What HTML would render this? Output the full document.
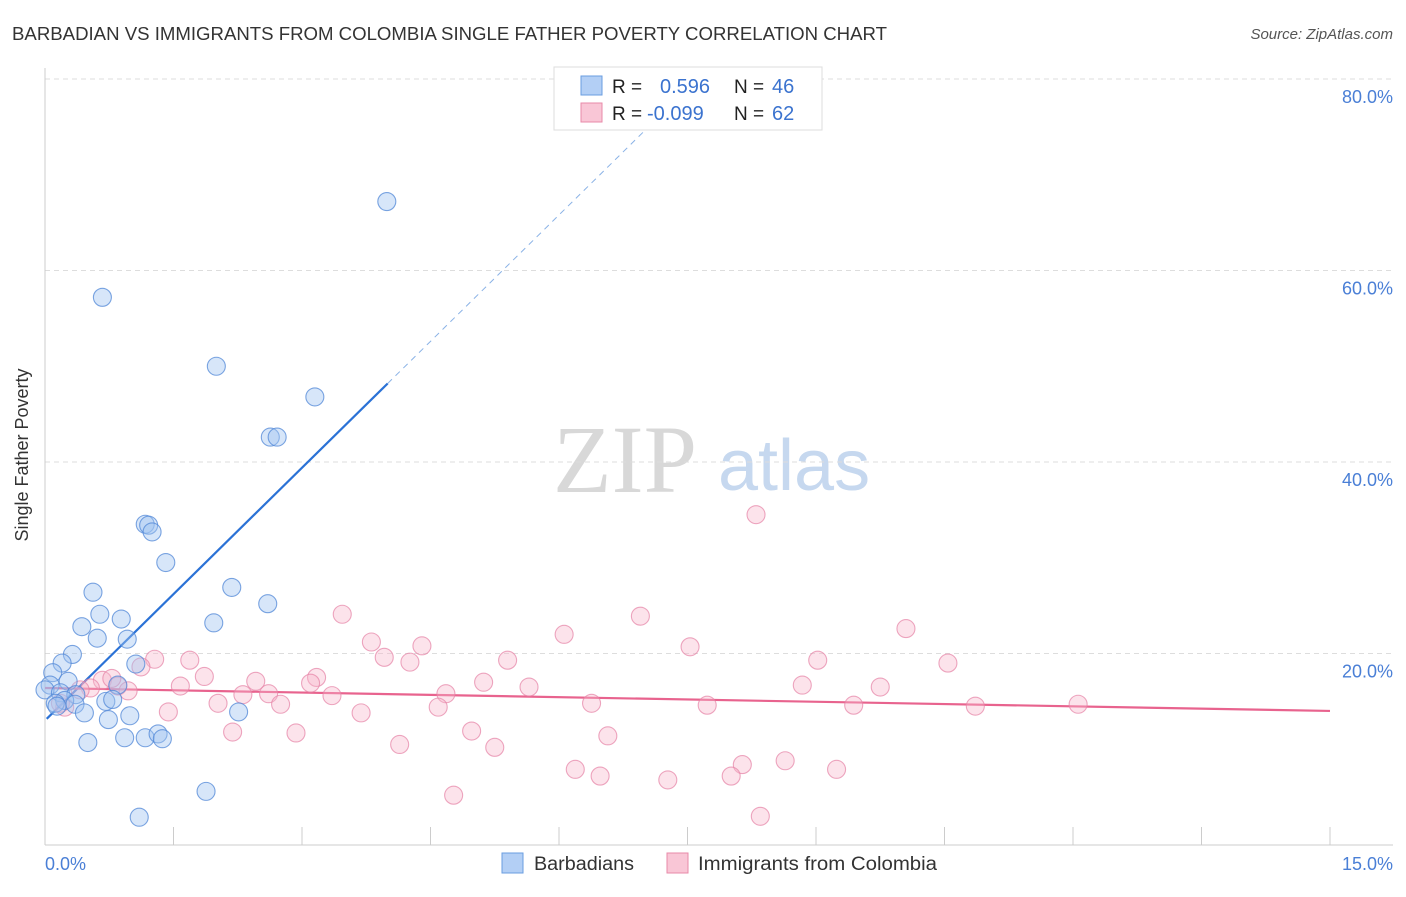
<!DOCTYPE html>
<html><head><meta charset="utf-8"><style>
body{margin:0;background:#fff;font-family:"Liberation Sans",sans-serif}
svg text{font-family:"Liberation Sans",sans-serif}
</style></head><body>
<svg id="chart" width="1406" height="892" viewBox="0 0 1406 892" xmlns="http://www.w3.org/2000/svg">
<text x="12" y="40" font-size="18.5" fill="#333" textLength="875" lengthAdjust="spacingAndGlyphs">BARBADIAN VS IMMIGRANTS FROM COLOMBIA SINGLE FATHER POVERTY CORRELATION CHART</text>
<text x="1393" y="39" font-size="15" fill="#555" font-style="italic" text-anchor="end">Source: ZipAtlas.com</text>
<g>
<text x="553" y="492" font-size="96" fill="#d8d8d8" font-family="Liberation Serif" style="font-family:'Liberation Serif',serif">ZIP</text>
<text x="718" y="490" font-size="72" fill="#c6d8ef">atlas</text>
</g>
<g id="grid"></g>
<g id="axes"></g>
<g id="trends"></g>
<g id="points"></g>
<text x="28" y="455" font-size="18" fill="#333" transform="rotate(-90 28 455)" text-anchor="middle">Single Father Poverty</text>
<g>
<rect x="554" y="67" width="268" height="63" fill="#fff" stroke="#ddd"/>
<rect x="581" y="76" width="21" height="19" fill="#b3cff5" stroke="#6a9de0"/>
<rect x="581" y="103" width="21" height="19" fill="#f9c6d6" stroke="#e88aa8"/>
<text x="612" y="93" font-size="19" fill="#222">R =</text>
<text x="660" y="93" font-size="20" fill="#3b73cf">0.596</text>
<text x="734" y="93" font-size="19" fill="#222">N =</text>
<text x="772" y="93" font-size="20" fill="#3b73cf">46</text>
<text x="612" y="120" font-size="19" fill="#222">R =</text>
<text x="647" y="120" font-size="20" fill="#3b73cf">-0.099</text>
<text x="734" y="120" font-size="19" fill="#222">N =</text>
<text x="772" y="120" font-size="20" fill="#3b73cf">62</text>
</g>
<g>
<rect x="502" y="853" width="21" height="20" fill="#b3cff5" stroke="#6a9de0"/>
<text x="534" y="870" font-size="19" fill="#333" textLength="100" lengthAdjust="spacingAndGlyphs">Barbadians</text>
<rect x="667" y="853" width="21" height="20" fill="#f9c6d6" stroke="#e88aa8"/>
<text x="698" y="870" font-size="19" fill="#333" textLength="239" lengthAdjust="spacingAndGlyphs">Immigrants from Colombia</text>
</g>
</svg>
<script>
const xTickValues=[0,1.5,3,4.5,6,7.5,9,10.5,12,13.5,15];
const yTickValues=[20,40,60,80];
const yTickLabels=["20.0%","40.0%","60.0%","80.0%"];
const xEndLabels=["0.0%","15.0%"];
const blueX=[3.99,0.67,2.00,3.15,2.63,2.71,1.17,1.21,1.25,1.41,0.56,2.18,2.60,0.64,0.89,1.97,0.43,0.61,0.96,0.32,0.20,1.06,0.09,0.27,0.06,0.00,0.18,0.36,0.85,0.23,0.12,0.35,0.71,0.79,0.46,0.74,0.99,2.26,0.50,0.93,1.17,1.32,1.37,1.88,1.10,0.14];
const blueY=[67.2,57.2,50.0,46.8,42.6,42.6,33.5,33.4,32.7,29.5,26.4,26.9,25.2,24.1,23.6,23.2,22.8,21.6,21.5,19.9,19.0,18.9,18.0,17.1,16.7,16.2,15.9,15.7,16.7,15.1,14.8,14.7,15.0,15.2,13.8,13.1,13.5,13.9,10.7,11.2,11.2,11.6,11.1,5.6,2.9,14.5];
const pinkX=[8.30,3.47,6.95,10.05,6.06,3.81,4.40,7.53,1.28,3.96,1.69,5.40,4.26,9.02,10.54,1.12,1.86,3.17,2.46,5.12,3.10,0.67,5.65,9.75,8.84,1.58,0.85,0.53,0.97,2.31,2.61,3.35,4.68,2.02,2.75,6.38,7.73,9.44,10.86,12.06,4.59,0.23,0.18,1.44,3.69,2.19,2.93,4.98,6.57,4.14,5.25,8.14,6.19,6.48,7.27,8.01,9.24,8.64,4.77,8.35,0.41,0.78];
const pinkY=[34.5,24.1,23.9,22.6,22.0,21.2,20.8,20.7,19.4,19.6,19.3,19.3,19.1,19.3,19.0,18.6,17.6,17.5,17.1,17.0,16.9,17.2,16.5,16.5,16.7,16.6,16.6,16.4,16.1,15.7,15.8,15.6,15.8,14.8,14.7,14.8,14.6,14.6,14.5,14.7,14.4,14.4,14.8,13.9,13.8,11.8,11.7,11.9,11.4,10.5,10.2,8.4,7.9,7.2,6.8,7.2,7.9,8.8,5.2,3.0,16.2,17.4];
const blueTrend=[13.0,8.8];
const pinkTrend=[16.4,-0.16];
const NS="http://www.w3.org/2000/svg";
const X0=45,X1=1330,Y0=845,YPX=9.575;
function sx(v){return X0+(X1-X0)*v/15;}
function sy(v){return Y0-v*YPX;}
function mk(tag,attrs,parent){const e=document.createElementNS(NS,tag);for(const k in attrs)e.setAttribute(k,attrs[k]);parent.appendChild(e);return e;}
const grid=document.getElementById('grid'),axes=document.getElementById('axes'),tr=document.getElementById('trends'),pts=document.getElementById('points');
yTickValues.forEach((v,i)=>{
 const l=mk('line',{x1:X0,x2:1393,y1:sy(v),y2:sy(v),stroke:'#ddd','stroke-dasharray':'5,4'},grid);
 
 
 const t=mk('text',{x:1393,y:sy(v)+24,'font-size':18,fill:'#4a7fd6','text-anchor':'end'},axes);
 t.textContent=yTickLabels[i];
 
 
});
const ya=mk('line',{x1:X0,x2:X0,y1:68,y2:Y0,stroke:'#ccc'},axes);


const xa=mk('line',{x1:X0,x2:1393,y1:Y0,y2:Y0,stroke:'#ccc'},axes);


xTickValues.forEach(v=>{
 const t=mk('line',{x1:sx(v),x2:sx(v),y1:Y0-18,y2:Y0,stroke:'#ccc'},axes);
 
 
});
const xl0=mk('text',{x:45,y:870,'font-size':18,fill:'#4a7fd6'},axes);
xl0.textContent=xEndLabels[0];


const xl1=mk('text',{x:1393,y:870,'font-size':18,fill:'#4a7fd6','text-anchor':'end'},axes);
xl1.textContent=xEndLabels[1];


function pt(x,y,fill,stroke,name){
 const c=mk('circle',{cx:sx(x),cy:sy(y),r:9,fill:fill,stroke:stroke,'stroke-width':1.1},pts);
 
 
}
pinkX.forEach((x,i)=>pt(x,pinkY[i],'rgba(246,182,202,0.38)','rgba(230,130,165,0.7)','colombia-point'));
blueX.forEach((x,i)=>pt(x,blueY[i],'rgba(160,196,240,0.42)','rgba(80,135,215,0.75)','barbadians-point'));
const bx1=4.0,bxd=7.6;
const b1=mk('line',{x1:sx(0.02),y1:sy(blueTrend[0]+blueTrend[1]*0.02),x2:sx(bx1),y2:sy(blueTrend[0]+blueTrend[1]*bx1),stroke:'#2b72d6','stroke-width':2.2},tr);


const b2=mk('line',{x1:sx(bx1),y1:sy(blueTrend[0]+blueTrend[1]*bx1),x2:sx(bxd),y2:sy(blueTrend[0]+blueTrend[1]*bxd),stroke:'#8ab2e6','stroke-width':1,'stroke-dasharray':'6,5'},tr);


const p1=mk('line',{x1:sx(0),y1:sy(pinkTrend[0]),x2:sx(15),y2:sy(pinkTrend[0]+pinkTrend[1]*15),stroke:'#e8638e','stroke-width':2.2},tr);


</script>
</body></html>
